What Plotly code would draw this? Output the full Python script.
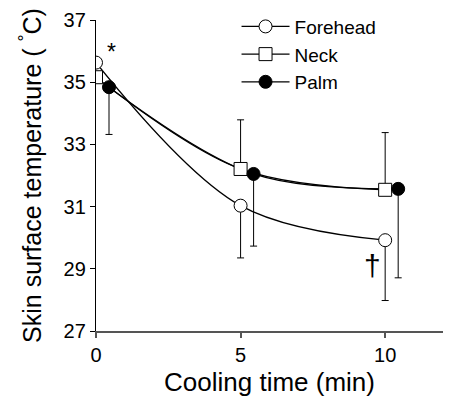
import plotly.graph_objects as go

# ---- data ----
time_min = [0, 5, 10]
forehead = [35.63, 31.03, 29.92]
neck = [35.16, 32.21, 31.54]
palm = [34.84, 32.05, 31.57]
forehead_sd_minus = [0, 1.68, 1.94]
neck_sd_plus = [0, 1.58, 1.84]
palm_sd_minus = [1.52, 2.32, 2.86]
series_names = ["Forehead", "Neck", "Palm"]
x_ticks = [0, 5, 10]
y_ticks = [27, 29, 31, 33, 35, 37]

PALM_OFFSET = 0.45
palm_x = [t + PALM_OFFSET for t in time_min]

FONT = "Arial, Liberation Sans, sans-serif"

fig = go.Figure()

line_style = dict(color="black", width=1.3, shape="spline", smoothing=1.0)
# lines first
for x, y in [(time_min, forehead), (time_min, neck), (palm_x, palm)]:
    fig.add_trace(go.Scatter(x=x, y=y, mode="lines", line=line_style,
                             showlegend=False, hoverinfo="skip"))

err_style = dict(type="data", color="black", thickness=1, width=3.5)
# markers with error bars
fig.add_trace(go.Scatter(
    x=time_min, y=forehead, mode="markers", showlegend=False,
    marker=dict(symbol="circle", size=13, color="white", line=dict(color="black", width=1)),
    error_y=dict(array=[0, 0, 0], arrayminus=forehead_sd_minus, symmetric=False, **err_style)))
fig.add_trace(go.Scatter(
    x=time_min, y=neck, mode="markers", showlegend=False,
    marker=dict(symbol="square", size=13, color="white", line=dict(color="black", width=1)),
    error_y=dict(array=neck_sd_plus, arrayminus=[0, 0, 0], symmetric=False, **err_style)))
fig.add_trace(go.Scatter(
    x=palm_x, y=palm, mode="markers", showlegend=False,
    marker=dict(symbol="circle", size=13, color="black", line=dict(color="black", width=1)),
    error_y=dict(array=[0, 0, 0], arrayminus=palm_sd_minus, symmetric=False, **err_style)))

# legend-only traces
for name, sym, col in zip(series_names, ["circle", "square", "circle"], ["white", "white", "black"]):
    fig.add_trace(go.Scatter(
        x=[None], y=[None], mode="lines+markers", name=name,
        line=dict(color="black", width=1.3),
        marker=dict(symbol=sym, size=13, color=col, line=dict(color="black", width=1))))

fig.add_annotation(x=0.55, y=35.98, text="*", showarrow=False,
                   font=dict(family=FONT, size=23, color="black"))
fig.add_annotation(x=9.55, y=29.1, text="†", showarrow=False,
                   font=dict(family=FONT, size=30, color="black"))

fig.update_layout(
    width=451, height=403,
    margin=dict(l=96, r=8, t=16, b=72),
    paper_bgcolor="white", plot_bgcolor="white",
    font=dict(family=FONT, color="black"),
    legend=dict(x=0.405, y=1.04, xanchor="left", yanchor="top",
                bgcolor="rgba(0,0,0,0)", font=dict(family=FONT, size=19, color="black"),
                itemwidth=48, tracegroupgap=0),
    xaxis=dict(range=[0, 12], tickvals=x_ticks, ticks="outside", ticklen=5,
               tickcolor="#555", tickwidth=1.5, showline=True, linecolor="#555",
               linewidth=2, showgrid=False, zeroline=False,
               tickfont=dict(family=FONT, size=20, color="black"),
               title=dict(text="Cooling time (min)", font=dict(family=FONT, size=26, color="black"),
                          standoff=8)),
    yaxis=dict(range=[27, 37], tickvals=y_ticks, ticks="outside", ticklen=5,
               tickcolor="black", tickwidth=1.3, showline=True, linecolor="black",
               linewidth=1.3, showgrid=False, zeroline=False,
               tickfont=dict(family=FONT, size=20, color="black"),
               title=dict(text="Skin surface temperature ( <sup>°</sup>C)",
                          font=dict(family=FONT, size=25, color="black"), standoff=14)),
)

fig.write_html("out.html")
